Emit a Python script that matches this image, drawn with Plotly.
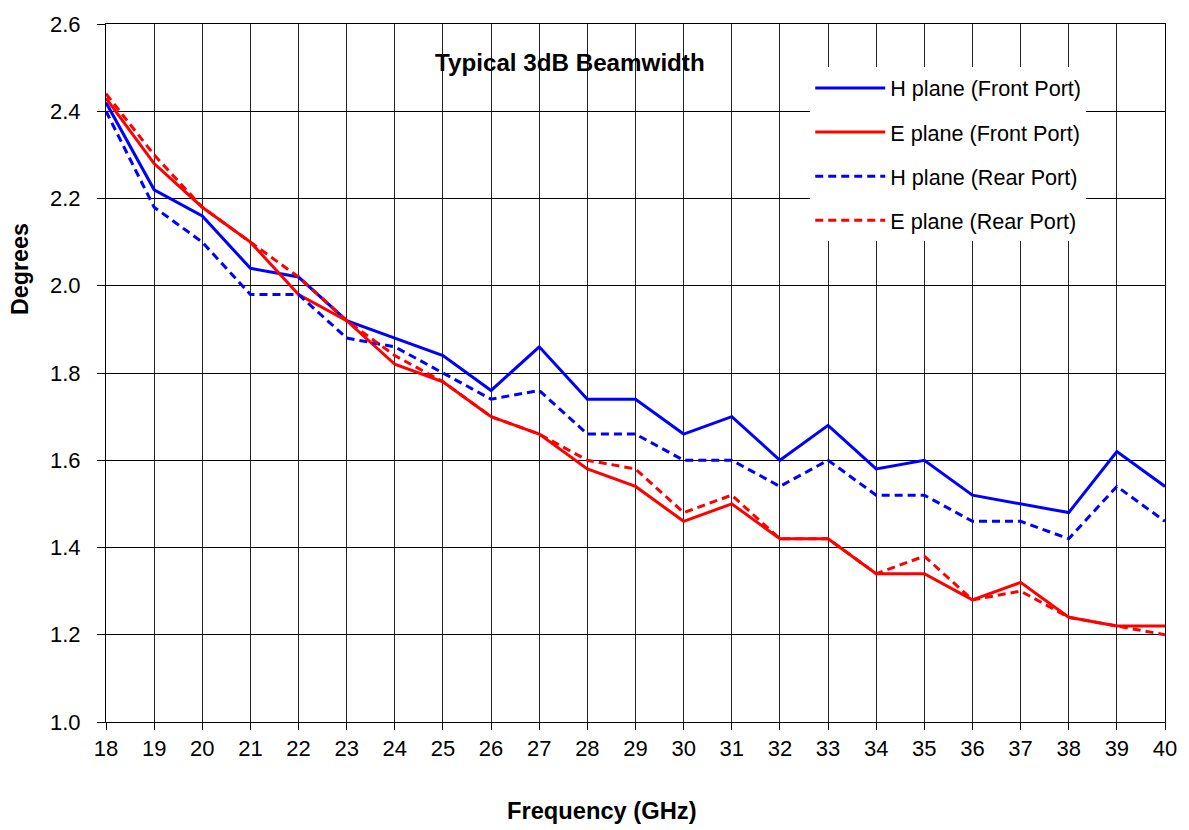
import plotly.graph_objects as go

freq = list(range(18, 41))
h_front = [2.42, 2.22, 2.16, 2.04, 2.02, 1.92, 1.88, 1.84, 1.76, 1.86, 1.74, 1.74,
           1.66, 1.70, 1.60, 1.68, 1.58, 1.60, 1.52, 1.50, 1.48, 1.62, 1.54]
e_front = [2.43, 2.28, 2.18, 2.10, 1.98, 1.92, 1.82, 1.78, 1.70, 1.66, 1.58, 1.54,
           1.46, 1.50, 1.42, 1.42, 1.34, 1.34, 1.28, 1.32, 1.24, 1.22, 1.22]
h_rear = [2.40, 2.18, 2.10, 1.98, 1.98, 1.88, 1.86, 1.80, 1.74, 1.76, 1.66, 1.66,
          1.60, 1.60, 1.54, 1.60, 1.52, 1.52, 1.46, 1.46, 1.42, 1.54, 1.46]
e_rear = [2.44, 2.30, 2.18, 2.10, 2.02, 1.92, 1.84, 1.78, 1.70, 1.66, 1.60, 1.58,
          1.48, 1.52, 1.42, 1.42, 1.34, 1.38, 1.28, 1.30, 1.24, 1.22, 1.20]

series_names = ["H plane (Front Port)", "E plane (Front Port)",
                "H plane (Rear Port)", "E plane (Rear Port)"]
series_values = [h_front, e_front, h_rear, e_rear]
series_colors = ["#0000FF", "#FF0000", "#0000FF", "#FF0000"]
series_dash = ["solid", "solid", "8px,5px", "8px,5px"]

FONT = "Arial, Liberation Sans, sans-serif"

fig = go.Figure()
for i, (name, vals, col, dash) in enumerate(zip(series_names, series_values, series_colors, series_dash)):
    fig.add_trace(go.Scatter(
        x=freq, y=vals, mode="lines", name=name, legendgroup=f"g{i}",
        line=dict(color=col, width=3, dash=dash),
    ))

fig.update_layout(
    width=1189, height=830,
    margin=dict(l=106, r=23, t=18, b=108),
    paper_bgcolor="white", plot_bgcolor="white",
    font=dict(family=FONT, size=22, color="black"),
    showlegend=True,
    legend=dict(
        x=0.665, y=0.9377, xanchor="left", yanchor="top",
        bgcolor="white", borderwidth=0,
        font=dict(family=FONT, size=21.6, color="black"),
        tracegroupgap=13, itemwidth=70,
    ),
    xaxis=dict(
        range=[18, 40], tickmode="linear", tick0=18, dtick=1,
        showgrid=True, gridcolor="#222", gridwidth=1,
        showline=True, linecolor="black", linewidth=1, mirror=True,
        ticks="outside", ticklen=7, tickcolor="black",
        tickfont=dict(family=FONT, size=22), zeroline=False,
    ),
    yaxis=dict(
        range=[1.0, 2.6], tickmode="linear", tick0=1.0, dtick=0.2, tickformat=".1f",
        showgrid=True, gridcolor="black", gridwidth=1,
        showline=True, linecolor="black", linewidth=1, mirror=True,
        ticks="outside", ticklen=8, tickcolor="black",
        tickfont=dict(family=FONT, size=22), zeroline=False,
        ticklabelstandoff=12,
    ),
    annotations=[
        dict(text="<b>Typical 3dB Beamwidth</b>", xref="paper", yref="paper",
             x=0.4377, y=0.9446, xanchor="center", yanchor="middle", showarrow=False,
             font=dict(family=FONT, size=24.2, color="black")),
        dict(text="<b>Degrees</b>", xref="paper", yref="paper",
             x=-0.0811, y=0.649, xanchor="center", yanchor="middle", showarrow=False,
             textangle=-90, font=dict(family=FONT, size=23.3, color="black")),
        dict(text="<b>Frequency (GHz)</b>", xref="paper", yref="paper",
             x=0.468, y=-0.1278, xanchor="center", yanchor="middle", showarrow=False,
             font=dict(family=FONT, size=23.7, color="black")),
    ],
)

fig.write_html(
    "out.html",
    config={"displayModeBar": False},
    post_script="document.body.style.margin='0';document.body.style.overflow='hidden';",
)
